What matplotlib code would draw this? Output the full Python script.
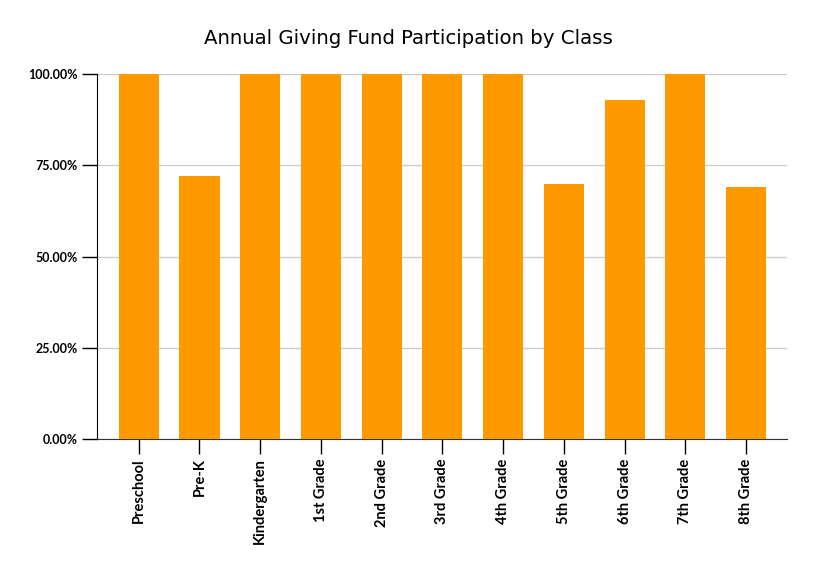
import matplotlib
matplotlib.use('Agg')
import matplotlib.pyplot as plt
from matplotlib.ticker import FuncFormatter

# dados
classes = ['Preschool', 'Pre-K', 'Kindergarten', '1st Grade', '2nd Grade', '3rd Grade',
           '4th Grade', '5th Grade', '6th Grade', '7th Grade', '8th Grade']
participacao = [1.00, 0.72, 1.00, 1.00, 1.00, 1.00, 1.00, 0.70, 0.93, 1.00, 0.69]
yticks = [0, 0.25, 0.50, 0.75, 1.00]

fig = plt.figure(figsize=(8.16, 5.75), dpi=100)
ax = fig.add_axes([0.1189, 0.2365, 0.8456, 0.6348])

x = range(len(classes))
ax.bar(x, participacao, width=0.66, color='#FF9900', zorder=3)

ax.set_xlim(-0.687, 10.675)
ax.set_ylim(0, 1.0)
ax.set_yticks(yticks)
ax.yaxis.set_major_formatter(FuncFormatter(lambda v, p: '%.2f%%' % (v * 100)))
ax.set_xticks(list(x))
ax.set_xticklabels(classes, rotation=90, fontweight='bold', fontsize=10.5, family='Lato')
for lab in ax.get_yticklabels():
    lab.set_fontweight('bold')
    lab.set_fontsize(9)
    lab.set_family('Lato')

ax.grid(True, axis='y', color='#cccccc', lw=1, zorder=0)
ax.set_axisbelow(True)
for s in ['top', 'right']:
    ax.spines[s].set_visible(False)
ax.spines['left'].set_color('black')
ax.spines['bottom'].set_color('#333333')
ax.tick_params(axis='both', length=11, width=1, pad=3)

fig.text(0.5, 0.933, 'Annual Giving Fund Participation by Class', ha='center', va='center',
         fontsize=14.2, family='DejaVu Sans')

fig.savefig('out.png', dpi=100)
